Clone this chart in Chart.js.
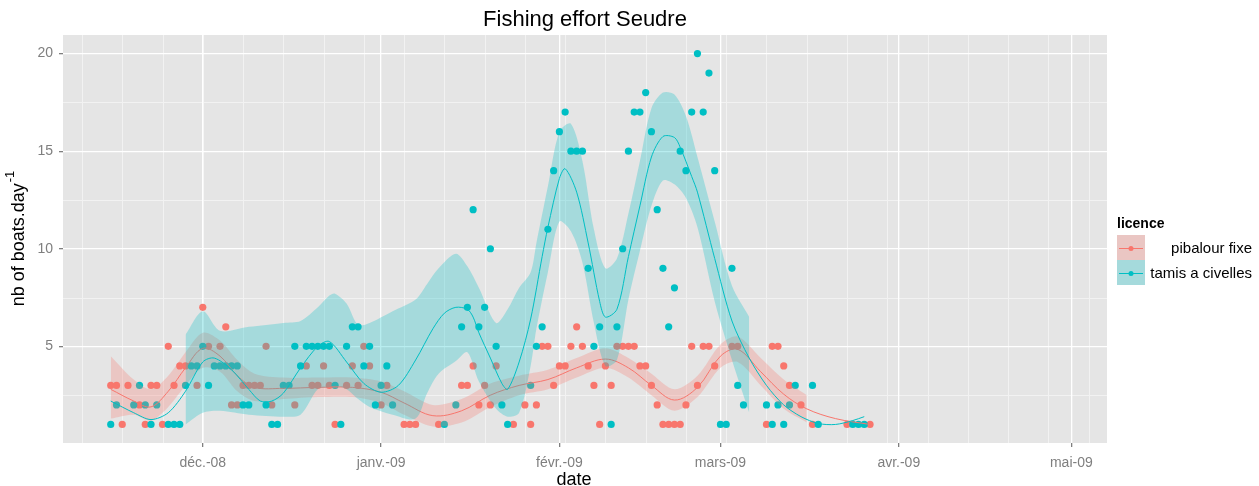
<!DOCTYPE html>
<html>
<head>
<meta charset="utf-8">
<title>Fishing effort Seudre</title>
<script src="https://cdn.jsdelivr.net/npm/chart.js@4.4.1/dist/chart.umd.min.js"></script>
<style>
  html, body { margin: 0; padding: 0; background: #ffffff; }
  #wrap { width: 1259px; height: 486px; }
</style>
</head>
<body>
<div id="wrap"><canvas id="chart" width="1259" height="486"></canvas></div>
<script>
// Days are counted from 1 Dec 2008 (day 0).
const DAY0 = Date.UTC(2008, 11, 1);
const dayOf = s => Math.round((Date.parse(s) - DAY0) / 86400000);

// Axis breaks
const monthDates  = ['2008-12-01', '2009-01-01', '2009-02-01', '2009-03-01', '2009-04-01', '2009-05-01'];
const monthLabels = ['déc.-08', 'janv.-09', 'févr.-09', 'mars-09', 'avr.-09', 'mai-09'];
const yMajor = [5, 10, 15, 20];
const yMinor = [2.5, 7.5, 12.5, 17.5];
const xRange = [-24.3, 157.2];
const yRange = [0.05, 20.95];

// Daily boat counts, licence "pibalour fixe"
const pibalourDay = [-16,-15,-14,-13,-11,-10,-9,-8,-7,-6,-5,-4,-3,-1,0,1,3,4,5,6,
  7,8,9,10,11,12,16,18,19,20,21,22,23,25,26,27,28,29,31,32,
  35,36,37,41,45,46,47,48,49,50,51,54,56,57,58,59,60,61,62,63,
  64,65,66,67,68,69,70,71,72,73,74,75,76,77,78,79,80,81,82,83,
  84,85,86,87,88,89,92,93,98,99,100,101,102,104,106,112,116];
const pibalourBoats = [3,3,1,3,2,1,3,3,1,5,3,4,4,3,7,5,5,6,2,2,
  3,3,3,3,5,2,2,4,3,3,4,3,1,3,4,3,5,4,2,3,
  1,1,1,1,3,3,4,2,3,2,4,1,2,1,2,5,5,3,4,4,
  5,6,5,4,3,1,4,3,5,5,5,5,4,4,3,2,1,1,1,1,
  2,5,3,5,5,4,5,5,1,5,5,4,3,2,1,1,1];

// Daily boat counts, licence "tamis a civelles"
const tamisDay = [-16,-15,-12,-11,-10,-9,-8,-6,-5,-4,-3,-2,-1,0,1,2,3,4,5,6,
  7,8,11,12,13,14,15,16,17,18,19,20,21,22,23,24,25,26,27,28,
  29,30,31,32,33,42,44,45,46,47,48,49,50,51,52,53,57,58,59,60,
  61,62,63,64,65,66,67,68,69,71,72,73,74,75,76,77,78,79,80,81,
  82,83,84,85,86,87,88,89,90,91,92,93,94,98,99,100,101,102,103,106,
  107,113,114,115];
const tamisBoats = [1,2,2,3,2,1,2,1,1,1,3,4,4,5,3,4,4,4,4,4,
  2,2,2,1,1,3,3,5,4,5,5,5,5,5,3,1,5,6,6,4,
  5,2,3,4,2,1,2,6,7,12,6,7,10,5,2,1,3,5,6,11,
  14,16,17,15,15,15,9,5,6,1,6,10,15,17,17,18,16,12,9,6,
  8,15,14,17,20,17,19,14,1,1,9,3,2,2,1,2,1,2,3,3,
  1,1,1,1];

// Smoothed trend and its confidence band, "pibalour fixe"
const pibalourFitDay = [-16,-12,-9,-6,-3,0,3,6,9,14,20,26,31,35,40,45,50,55,60,65,70,74,78,82,86,90,93,97,101,105,110,116];
const pibalourFit    = [2.8,2.2,1.9,2.7,3.9,4.9,4.5,3.5,2.9,2.85,2.9,2.9,2.65,2.1,1.45,1.7,2.5,3.0,3.3,3.9,4.35,3.9,3.0,2.25,2.9,4.5,4.85,3.7,2.55,1.8,1.3,1.0];
const pibalourBandDay = [-16,-12,-9,-6,-3,0,3,6,9,14,20,26,31,35,40,45,50,55,60,65,70,74,78,82,86,90,93,97,101,105];
const pibalourLow     = [1.3,1.5,1.2,1.9,3.0,3.9,3.7,2.7,2.2,2.3,2.4,2.4,2.1,1.5,0.9,1.1,1.9,2.5,2.8,3.4,3.9,3.4,2.5,1.7,2.4,3.9,4.2,3.0,1.8,1.1];
const pibalourHigh    = [4.5,3.3,2.8,3.5,4.7,5.7,5.3,4.3,3.6,3.4,3.4,3.4,3.2,2.7,2.0,2.3,3.1,3.5,3.8,4.4,4.9,4.4,3.6,2.8,3.5,5.1,5.5,4.4,3.3,2.5];

// Smoothed trend and its confidence band, "tamis a civelles"
const tamisFitDay = [-16,-12,-9,-6,-3,0,2,5,8,10,12,14,17,20,22,25,28,31,34,37,
  40,42,44,46,47,48,50,52,53,55,57,59,60,62,63,65,67,69,70,72,
  74,76,78,80,82,83,85,86,89,92,95,98,101,104,107,110,113,115];
const tamisFit = [2.2,1.6,1.25,1.6,2.7,4.2,4.4,3.8,2.8,2.2,2.2,2.6,3.9,5.0,5.25,4.2,3.1,2.65,3.0,4.3,
  5.9,6.7,7.0,6.9,6.5,5.7,4.4,3.1,2.8,4.2,6.4,9.6,11.1,13.6,14.1,12.9,10.3,7.3,6.5,6.9,
  9.6,12.2,14.7,15.75,15.7,15.2,13.7,12.9,9.5,6.3,4.4,3.0,2.0,1.4,1.05,1.0,1.2,1.4];
const tamisBandDay = [-3,0,3,8,14,17,20,22,23,25,27,29,33,37,39,41,44,46,48,51,
  53,55,57,58,60,62,64,66,68,70,72,74,76,78,80,82,84,86,89,92,95];
const tamisLow  = [1.0,1.6,1.7,1.5,1.4,1.5,2.8,2.9,3.0,2.8,2.3,1.9,1.5,1.3,2.6,3.6,4.25,4.7,3.2,1.8,
  1.4,1.6,4.0,5.9,8.8,11.4,10.9,9.3,6.2,4.0,4.3,7.4,9.9,12.2,13.5,13.3,12.6,11.1,7.3,4.3,1.6];
const tamisHigh = [5.6,6.8,5.8,6.0,6.2,6.3,7.0,7.6,7.7,7.2,6.1,6.2,6.8,7.4,8.2,9.0,9.75,9.1,8.0,6.2,
  6.9,8.0,8.8,10.3,13.2,16.0,16.4,14.5,11.0,9.0,9.5,11.8,14.5,17.2,18.0,17.9,16.8,14.7,11.4,8.1,6.5];

const RED = '#F8766D', TEAL = '#00BFC4';
const RED_BAND = 'rgba(248,118,109,0.28)', TEAL_BAND = 'rgba(0,191,196,0.28)';
const FONT = '"Liberation Sans", Arial, sans-serif';

const pts = (xs, ys) => xs.map((x, i) => ({ x, y: ys[i] }));
const band = (xs, ys, color, order, fill) => ({
  type: 'line', data: pts(xs, ys), borderWidth: 0, pointRadius: 0,
  backgroundColor: color, fill, tension: 0.3, order
});

// Week starts (Mondays) for the minor vertical grid
const mondays = [];
for (let d = -21; d <= 154; d += 7) mondays.push(d);

const decor = {
  id: 'decor',
  beforeDraw(chart) {
    const { ctx, chartArea: a, scales: { x, y } } = chart;
    ctx.save();
    ctx.fillStyle = '#E5E5E5';
    ctx.fillRect(a.left, a.top, a.right - a.left, a.bottom - a.top);
    ctx.strokeStyle = '#F2F2F2';
    ctx.lineWidth = 1;
    ctx.beginPath();
    yMinor.forEach(v => { const p = Math.round(y.getPixelForValue(v)) + 0.5; ctx.moveTo(a.left, p); ctx.lineTo(a.right, p); });
    mondays.forEach(v => { const p = Math.round(x.getPixelForValue(v)) + 0.5; if (p > a.left && p < a.right) { ctx.moveTo(p, a.top); ctx.lineTo(p, a.bottom); } });
    ctx.stroke();
    ctx.restore();
  },
  afterDraw(chart) {
    const { ctx, chartArea: a } = chart;
    ctx.save();
    // title
    ctx.fillStyle = '#000';
    ctx.textAlign = 'center';
    ctx.textBaseline = 'middle';
    ctx.font = '22px ' + FONT;
    ctx.fillText('Fishing effort Seudre', (a.left + a.right) / 2, 20);
    // x title
    ctx.font = '18px ' + FONT;
    ctx.fillText('date', (a.left + a.right) / 2 - 11, 480);
    // y title with superscript
    ctx.translate(19, (a.top + a.bottom) / 2);
    ctx.rotate(-Math.PI / 2);
    const main = 'nb of boats.day';
    ctx.font = '13px ' + FONT;
    const supW = ctx.measureText('-1').width;
    ctx.font = '18px ' + FONT;
    const mainW = ctx.measureText(main).width;
    const x0 = -(mainW + supW) / 2;
    ctx.textAlign = 'left';
    ctx.fillText(main, x0, 0);
    ctx.font = '13px ' + FONT;
    ctx.fillText('-1', x0 + mainW + 1, -9);
    ctx.restore();

    // legend
    ctx.save();
    ctx.textBaseline = 'middle';
    ctx.font = 'bold 14px ' + FONT;
    ctx.fillStyle = '#000';
    ctx.textAlign = 'left';
    ctx.fillText('licence', 1117, 224);
    const keys = [
      { label: 'pibalour fixe', color: RED, fill: RED_BAND, y: 235 },
      { label: 'tamis a civelles', color: TEAL, fill: TEAL_BAND, y: 260 }
    ];
    keys.forEach(k => {
      ctx.fillStyle = '#E5E5E5';
      ctx.fillRect(1117, k.y, 28, 25);
      ctx.fillStyle = k.fill;
      ctx.fillRect(1117, k.y, 28, 25);
      ctx.strokeStyle = k.color;
      ctx.lineWidth = 1;
      ctx.beginPath();
      ctx.moveTo(1119, k.y + 13.5); ctx.lineTo(1143, k.y + 13.5);
      ctx.stroke();
      ctx.fillStyle = k.color;
      ctx.beginPath();
      ctx.arc(1131, k.y + 13.5, 2.5, 0, Math.PI * 2);
      ctx.fill();
      ctx.fillStyle = '#000';
      ctx.font = '15px ' + FONT;
      ctx.textAlign = 'right';
      ctx.fillText(k.label, 1252, k.y + 13.5);
    });
    ctx.restore();
  }
};

new Chart(document.getElementById('chart'), {
  type: 'scatter',
  data: {
    datasets: [
      { label: 'pibalour fixe', data: pts(pibalourDay, pibalourBoats), backgroundColor: RED, borderWidth: 0, pointRadius: 3.6, order: 6 },
      { label: 'tamis a civelles', data: pts(tamisDay, tamisBoats), backgroundColor: TEAL, borderWidth: 0, pointRadius: 3.6, order: 5 },
      band(pibalourBandDay, pibalourHigh, RED_BAND, 4, '+1'),
      band(pibalourBandDay, pibalourLow, RED_BAND, 4, false),
      { type: 'line', data: pts(pibalourFitDay, pibalourFit), borderColor: RED, borderWidth: 1, pointRadius: 0, tension: 0.35, fill: false, order: 3 },
      band(tamisBandDay, tamisHigh, TEAL_BAND, 2, '+1'),
      band(tamisBandDay, tamisLow, TEAL_BAND, 2, false),
      { type: 'line', data: pts(tamisFitDay, tamisFit), borderColor: TEAL, borderWidth: 1, pointRadius: 0, tension: 0.3, fill: false, order: 1 }
    ]
  },
  options: {
    responsive: false,
    animation: false,
    events: [],
    layout: { padding: { top: 35, right: 152, bottom: 0, left: 0 } },
    plugins: { legend: { display: false }, tooltip: { enabled: false }, title: { display: false } },
    scales: {
      x: {
        type: 'linear', min: xRange[0], max: xRange[1],
        afterBuildTicks: s => { s.ticks = monthDates.map(d => ({ value: dayOf(d) })); },
        afterFit: s => { s.height = 43; },
        ticks: {
          autoSkip: false, maxRotation: 0, padding: 8,
          color: '#7F7F7F', font: { family: FONT, size: 14 },
          callback: (v, i) => monthLabels[i]
        },
        grid: { color: '#FFFFFF', lineWidth: 1.3, tickLength: 4, tickColor: '#7F7F7F' },
        border: { display: false }
      },
      y: {
        type: 'linear', min: yRange[0], max: yRange[1],
        afterBuildTicks: s => { s.ticks = yMajor.map(v => ({ value: v })); },
        afterFit: s => { s.width = 63; },
        ticks: { padding: 6, color: '#7F7F7F', font: { family: FONT, size: 14 }, callback: v => String(v) },
        grid: { color: '#FFFFFF', lineWidth: 1.3, tickLength: 4, tickColor: '#7F7F7F' },
        border: { display: false }
      }
    }
  },
  plugins: [decor]
});
</script>
</body>
</html>
